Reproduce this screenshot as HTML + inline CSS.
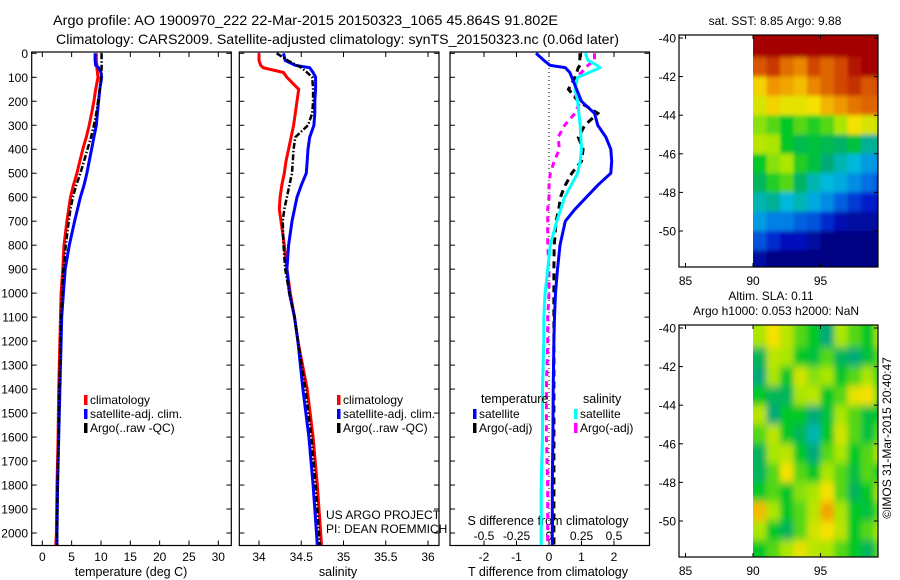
<!DOCTYPE html>
<html><head><meta charset="utf-8"><style>
html,body{margin:0;padding:0;background:#fff;}
svg{display:block;font-family:"Liberation Sans",Arial,sans-serif;}
text{fill:#000;}
</style></head><body>
<svg id="chart" width="900" height="580" viewBox="0 0 900 580" xmlns="http://www.w3.org/2000/svg">
<rect x="0" y="0" width="900" height="580" fill="#fff"/>
<text x="53" y="25" font-size="14" textLength="505" lengthAdjust="spacingAndGlyphs">Argo profile: AO 1900970_222 22-Mar-2015 20150323_1065 45.864S 91.802E</text>
<text x="56" y="44" font-size="14" textLength="563" lengthAdjust="spacingAndGlyphs">Climatology: CARS2009. Satellite-adjusted climatology: synTS_20150323.nc (0.06d later)</text>
<g id="plots"></g>
</svg>
<script>
// ---- profile data (depth in m) ----
const depths = [0,30,50,60,80,100,150,200,250,300,350,400,450,500,550,600,650,700,800,900,1000,1100,1200,1400,1600,1800,2000,2050];
const tempClim = [9.2,9.2,9.3,9.3,9.4,9.5,9.1,8.8,8.4,8.0,7.5,6.9,6.4,5.9,5.3,4.8,4.5,4.2,3.7,3.5,3.2,3.1,3.0,2.8,2.7,2.5,2.4,2.3];
const tempSat = [9.0,9.0,9.1,9.6,10.0,10.1,9.8,9.6,9.4,9.2,8.8,8.4,8.0,7.6,7.1,6.5,6.0,5.5,4.6,3.9,3.6,3.3,3.2,3.0,2.8,2.6,2.5,2.5];
const tempArgo = [10.1,10.1,10.1,10.1,10.1,10.0,9.8,9.5,9.2,8.8,8.3,7.7,7.1,6.5,5.8,5.2,4.8,4.5,4.0,3.6,3.4,3.2,3.1,2.9,2.8,2.6,2.5,2.5];
const salClim = [34.0,34.0,34.02,34.05,34.29,34.33,34.47,34.45,34.43,34.41,34.38,34.35,34.32,34.30,34.27,34.25,34.24,34.26,34.30,34.33,34.37,34.42,34.46,34.57,34.64,34.69,34.73,34.74];
const salSat = [34.29,34.31,34.43,34.6,34.64,34.67,34.67,34.66,34.66,34.65,34.60,34.58,34.57,34.56,34.5,34.45,34.42,34.39,34.35,34.33,34.36,34.42,34.46,34.52,34.59,34.64,34.68,34.69];
const salArgo = [34.21,34.34,34.45,34.5,34.57,34.63,34.64,34.64,34.63,34.58,34.43,34.41,34.40,34.39,34.36,34.33,34.30,34.28,34.29,34.31,34.36,34.42,34.46,34.55,34.62,34.67,34.71,34.72];
const dTempSat = [-0.4,-0.15,0.03,0.5,0.64,0.7,0.85,1.0,1.4,1.5,1.75,1.9,1.93,1.9,1.5,1.15,0.8,0.5,0.34,0.26,0.2,0.17,0.15,0.13,0.12,0.1,0.1,0.1];
const dTempArgo = [0.95,0.95,0.95,0.9,0.85,0.8,0.6,0.9,1.5,1.1,0.9,1.05,1.0,0.7,0.5,0.35,0.3,0.22,0.16,0.15,0.15,0.15,0.15,0.15,0.15,0.15,0.15,0.15];
const dSalSat = [0.28,0.3,0.37,0.39,0.31,0.22,0.2,0.22,0.23,0.24,0.245,0.25,0.24,0.22,0.17,0.12,0.09,0.06,0.01,-0.01,-0.03,-0.04,-0.04,-0.05,-0.05,-0.06,-0.06,-0.06];
const dSalArgo = [0.35,0.35,0.3,0.28,0.25,0.2,0.15,0.24,0.2,0.12,0.07,0.08,0.04,0.01,0.0,0.0,-0.01,-0.01,-0.01,0.0,0.0,-0.01,-0.01,-0.02,-0.02,-0.01,-0.01,-0.01];
const depthTicks = [0,100,200,300,400,500,600,700,800,900,1000,1100,1200,1300,1400,1500,1600,1700,1800,1900,2000];
const tempTicks = [0,5,10,15,20,25,30];
const salTicks = [34,34.5,35,35.5,36];
const salTickLabels = ["34","34.5","35","35.5","36"];
const dTempTicks = [-2,-1,0,1,2];
const dSalTicks = [-0.5,-0.25,0,0.25,0.5];
const dSalTickLabels = ["-0.5","-0.25","0","0.25","0.5"];
// ---- map data (normalised 0..1), rows from -40 southward, cols from 90E eastward ----
const sstGrid = [
[1,1,1,1,1,1,1,1,1,1],
[.88,.92,.85,.82,.9,.86,.9,.97,1,1],
[.72,.8,.78,.75,.82,.86,.9,.93,.88,.9],
[.66,.72,.68,.68,.7,.76,.8,.84,.86,.86],
[.58,.55,.5,.55,.52,.55,.6,.7,.66,.64],
[.62,.6,.5,.46,.48,.46,.44,.48,.4,.4],
[.5,.58,.6,.52,.48,.42,.38,.34,.3,.28],
[.45,.52,.55,.44,.38,.34,.32,.28,.24,.2],
[.38,.4,.34,.38,.32,.28,.22,.17,.13,.12],
[.3,.26,.26,.22,.2,.15,.08,.05,.05,.05],
[.2,.15,.1,.1,.05,0,0,0,0,0],
[.05,0,0,0,0,0,0,0,0,0]];
const slaGrid = [
[.6,.7,.62,.55,.5,.42,.6,.55,.5,.6],
[.45,.62,.6,.5,.48,.55,.45,.42,.48,.55],
[.42,.6,.5,.65,.58,.6,.5,.55,.6,.5],
[.5,.45,.45,.6,.62,.5,.55,.68,.7,.55],
[.62,.42,.5,.5,.42,.48,.6,.55,.48,.5],
[.55,.62,.5,.45,.38,.5,.65,.55,.48,.55],
[.45,.6,.62,.5,.42,.55,.6,.5,.55,.62],
[.45,.55,.7,.55,.5,.6,.55,.48,.55,.5],
[.5,.55,.5,.58,.6,.7,.55,.45,.5,.6],
[.75,.6,.5,.55,.62,.78,.6,.5,.48,.55],
[.6,.5,.45,.55,.65,.7,.62,.5,.55,.6],
[.5,.55,.6,.68,.62,.6,.55,.5,.45,.55]];
const lonTicks = [85,90,95];
const latTicks = [-40,-42,-44,-46,-48,-50];

const NS = "http://www.w3.org/2000/svg";
const root = document.getElementById('plots');
function mk(tag, attrs, parent){const e=document.createElementNS(NS,tag);for(const k in attrs)e.setAttribute(k,attrs[k]);(parent||root).appendChild(e);return e;}
function txt(x,y,s,size,anchor,parent){const t=mk('text',{x:x,y:y,'font-size':size||12,'text-anchor':anchor||'start'},parent);t.textContent=s;return t;}

const TOP=52, BOT=545.5;
function yDepth(d){return TOP+(d/2000)*(533-53.3)+1.3;}
function makeX(v0,px0,v1,px1){return v=>px0+(v-v0)*(px1-px0)/(v1-v0);}

function frame(name,x0,x1){
  const r=mk('rect',{x:x0,y:TOP,width:x1-x0,height:BOT-TOP,fill:'none',stroke:'#000','stroke-width':1.2});
  
  
  depthTicks.forEach(d=>{const y=yDepth(d);
    mk('line',{x1:x0,x2:x0+5,y1:y,y2:y,stroke:'#000'});
    mk('line',{x1:x1-5,x2:x1,y1:y,y2:y,stroke:'#000'});});
}
function xticks(ticks,labels,X,ly,name){
  const g=mk('g',{});
  
  
  ticks.forEach((t,i)=>{const x=X(t);
    mk('line',{x1:x,x2:x,y1:BOT,y2:BOT-5,stroke:'#000'},g);
    mk('line',{x1:x,x2:x,y1:TOP,y2:TOP+5,stroke:'#000'},g);
    txt(x,ly,labels?labels[i]:String(t),12,'middle',g);});
}
function series(name,vals,X,color,dash,width){
  const pts=depths.map((d,i)=>X(vals[i]).toFixed(1)+','+yDepth(d).toFixed(1)).join(' ');
  const p=mk('polyline',{points:pts,fill:'none',stroke:color,'stroke-width':width||3,'stroke-dasharray':dash||'none','clip-path':'url(#clipP)'});
  
  
}
function legendEntry(name,x,y,color,label){
  const g=mk('g',{});
  
  
  mk('rect',{x:x,y:y-9,width:3.5,height:10,fill:color},g);
  txt(x+6,y,label,12,'start',g);
}
const defs=mk('defs',{});
const cp=mk('clipPath',{id:'clipP'},defs);
mk('rect',{x:0,y:TOP,width:900,height:BOT-TOP},cp);
const fb=mk('filter',{id:'blurSla',x:'-10%',y:'-10%',width:'120%',height:'120%'},defs);
mk('feGaussianBlur',{stdDeviation:'3,4'},fb);
const fb2=mk('filter',{id:'blurSst',x:'-10%',y:'-10%',width:'120%',height:'120%'},defs);
mk('feGaussianBlur',{stdDeviation:'1.5,2'},fb2);

// y tick labels
const yl=mk('g',{});


depthTicks.forEach(d=>txt(28,yDepth(d)+4.5,String(d),12,'end',yl));

// Panel 1 temperature
const X1=makeX(0,42.3,30,218.3);
frame('temperature-panel',31.7,231.3);
xticks(tempTicks,null,X1,561,'temperature-x-ticks');
const t1=txt(131,576,'temperature (deg C)',12.5,'middle');


series('temp-climatology-line',tempClim,X1,'#ff0000');
series('temp-satellite-line',tempSat,X1,'#0000ff');
series('temp-argo-line',tempArgo,X1,'#000','6,2,1.5,2',2.5);
legendEntry('legend-climatology',84,404,'#ff0000','climatology');
legendEntry('legend-satellite-adj',84,418,'#0000ff','satellite-adj. clim.');
legendEntry('legend-argo-raw',84,432,'#000','Argo(..raw -QC)');

// Panel 2 salinity
const X2=makeX(34,259,35,343.5);
frame('salinity-panel',239.3,439);
xticks(salTicks,salTickLabels,X2,561,'salinity-x-ticks');
const t2=txt(338,576,'salinity',12.5,'middle');


series('sal-climatology-line',salClim,X2,'#ff0000');
series('sal-satellite-line',salSat,X2,'#0000ff');
series('sal-argo-line',salArgo,X2,'#000','6,2,1.5,2',2.5);
legendEntry('legend-sal-climatology',337,404,'#ff0000','climatology');
legendEntry('legend-sal-satellite-adj',337,418,'#0000ff','satellite-adj. clim.');
legendEntry('legend-sal-argo-raw',337,432,'#000','Argo(..raw -QC)');
const pi=mk('g',{});


txt(326,519,'US ARGO PROJECT',12,'start',pi);
txt(326,533,'PI: DEAN ROEMMICH',12,'start',pi);

// Panel 3 differences
const X3=makeX(0,549,2,614);
const X3s=v=>X3(v*4);
frame('difference-panel',450,649.5);
mk('line',{x1:X3(0),x2:X3(0),y1:TOP,y2:BOT,stroke:'#000','stroke-dasharray':'1,3'});
xticks(dTempTicks,null,X3,561,'t-difference-ticks');
const sl=mk('g',{});


dSalTicks.forEach((t,i)=>txt(X3s(t),540,dSalTickLabels[i],12,'middle',sl));
const t3=txt(548,525,'S difference from climatology',12.5,'middle');


const t4=txt(548,576,'T difference from climatology',12.5,'middle');


series('dsal-argo-line',dSalArgo,X3s,'#ff00ff','6,5',3);
series('dtemp-argo-line',dTempArgo,X3,'#000','7,5',3);
series('dsal-satellite-line',dSalSat,X3s,'#00ffff');
series('dtemp-satellite-line',dTempSat,X3,'#0000ff');
const lt=txt(481,403,'temperature',12.5);


const ls=txt(583,403,'salinity',12.5);


legendEntry('legend-t-satellite',473,418,'#0000ff','satellite');
legendEntry('legend-t-argo',473,432,'#000','Argo(-adj)');
legendEntry('legend-s-satellite',574,418,'#00ffff','satellite');
legendEntry('legend-s-argo',574,432,'#ff00ff','Argo(-adj)');

// ---- maps ----
const cmapStops=[[0,[0,0,130]],[0.12,[0,20,200]],[0.25,[0,120,230]],[0.35,[0,190,220]],[0.42,[0,170,120]],[0.5,[0,200,40]],[0.6,[170,230,0]],[0.7,[245,225,0]],[0.8,[240,150,0]],[0.9,[210,70,0]],[1,[165,0,0]]];
function cmap(v){v=Math.max(0,Math.min(1,v));
  for(let i=1;i<cmapStops.length;i++){const [a,ca]=cmapStops[i-1],[b,cb]=cmapStops[i];
    if(v<=b){const f=(v-a)/(b-a);return 'rgb('+ca.map((c,k)=>Math.round(c+(cb[k]-c)*f)).join(',')+')';}}
  return 'rgb(165,0,0)';}
function drawMap(name,grid,top,bottom,latTop,filterId){
  const L=679,R=878;
  const lonX=lon=>753+(lon-90)*13.5;
  const latY=lat=>latTop+(-40-lat)*19.3;
  const g=mk('g',{});
  
  
  const cid='clip'+name;
  const c=mk('clipPath',{id:cid},defs);
  mk('rect',{x:753,y:top,width:R-753,height:bottom-top},c);
  const outer=mk('g',{'clip-path':'url(#'+cid+')'},g);
  const cells=mk('g',{filter:'url(#'+filterId+')'},outer);
  grid.forEach((row,ri)=>row.forEach((v,ci)=>{
    const y0=ri===0?top-15:latY(-40-ri), y1=latY(-41-ri)+(ri===grid.length-1?20:0);
    const x0=ci===0?lonX(90)-15:lonX(90+ci);
    const x1=ci===row.length-1?lonX(90+ci)+30:lonX(91+ci);
    const cell=mk('rect',{x:x0,y:y0,width:x1-x0+0.4,height:y1-y0+0.4,fill:cmap(v)},cells);
    
    
  }));
  mk('rect',{x:L,y:top,width:R-L,height:bottom-top,fill:'none',stroke:'#000','stroke-width':1.2},g);
  lonTicks.forEach(l=>{const x=lonX(l);
    mk('line',{x1:x,x2:x,y1:bottom,y2:bottom-4,stroke:'#000'},g);
    mk('line',{x1:x,x2:x,y1:top,y2:top+4,stroke:'#000'},g);
    txt(x,bottom+18,String(l),12,'middle',g);});
  latTicks.forEach(l=>{const y=latY(l);
    mk('line',{x1:L,x2:L+4,y1:y,y2:y,stroke:'#000'},g);
    mk('line',{x1:R-4,x2:R,y1:y,y2:y,stroke:'#000'},g);
    txt(L-3,y+4.5,String(l),12,'end',g);});
}
drawMap('sst-map',sstGrid,35,267,38,'blurSst');
drawMap('sla-map',slaGrid,325,557,328,'blurSla');
const st=txt(775,25,'sat. SST: 8.85 Argo: 9.88',12,'middle');


const at=txt(771,300,'Altim. SLA: 0.11',12,'middle');


const at2=txt(776,315,'Argo h1000: 0.053 h2000: NaN',12,'middle');


const cr=txt(0,0,'©IMOS 31-Mar-2015 20:40:47',12,'middle');
cr.setAttribute('transform','translate(891,438) rotate(-90)');


</script>
</body></html>
